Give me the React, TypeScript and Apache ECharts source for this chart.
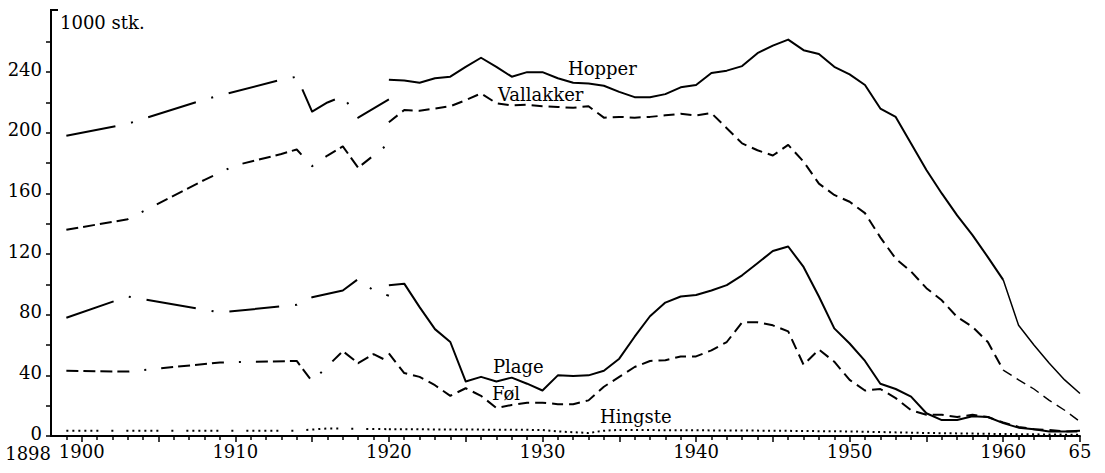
import React, { useEffect, useRef } from "react";
import * as echarts from "echarts";

// ---- Data (1000 stk.) ----
const mainYears: number[] = [];
for (let y = 1920; y <= 1965; y++) mainYears.push(y);

const hopperMain = [235, 234.5, 233, 236, 237, 243.5, 249.5, 243.5, 237, 240, 240, 236, 233, 232.5, 231, 227, 223.5, 223.5, 225.5, 230, 231.5, 239.5, 241, 244, 252.5, 257.5, 261.5, 254.5, 252, 243.5, 238.5, 231.5, 216, 210.5, 193, 175.5, 160, 145.5, 132.5, 118, 103, 73, 60, 48, 37, 28];
const vallakkerMain = [207, 215, 214.5, 216, 217.5, 221.5, 226, 219.5, 218, 218.5, 217.5, 217, 216.5, 217.5, 210, 210.5, 210, 210.5, 211.5, 212.5, 211.5, 213, 203, 193, 188.5, 185, 192, 181, 166.5, 159, 154.5, 147, 131, 117, 108.5, 97.5, 89.5, 78.5, 72, 62, 43.5, 37, 31, 23.5, 17, 9.5];
const plageMain = [99.5, 100.5, 85, 70.5, 62, 36, 39, 36, 38.5, 34.5, 30, 40, 39.5, 40, 43, 51, 65.5, 79, 88, 92, 93, 96, 99.5, 106, 114, 122, 125, 111.5, 92, 71, 61, 49.5, 34.5, 31, 26, 15, 10.5, 10.5, 13, 12.5, 8.5, 5.5, 4.5, 3, 3, 3.5];
const folMain = [54.5, 41.5, 39, 33.5, 26.5, 31.5, 26.5, 18.5, 20.5, 22, 22, 21, 21, 23.5, 32.5, 39, 45.5, 49.5, 50, 52.5, 52.5, 56.5, 62, 75, 75, 73, 69, 47, 57, 49, 37, 30, 31, 25, 17, 14, 14, 12.5, 14, 12.5, 9, 6, 4.5, 4, 3, 3];
const hingsteMain: [number, number][] = [[1920, 4.5], [1930, 4], [1931, 3], [1933, 2], [1934, 3.5], [1935, 4], [1945, 3.5], [1950, 3], [1955, 2], [1960, 1.3], [1965, 0.8]];

// early period (before 1920), sparse readings
const hopperEarly: [number, number][] = [[1899, 198], [1903, 206], [1908, 222], [1913, 235], [1914, 237], [1915, 214], [1916, 220], [1917, 224], [1918, 210], [1920, 222]];
const vallakkerEarly: [number, number][] = [[1899, 136], [1903, 143], [1908, 169], [1910, 178.5], [1913, 186], [1914, 189], [1915, 178], [1916, 185], [1917, 191], [1918, 177], [1920, 193]];
const plageEarly: [number, number][] = [[1899, 78], [1903, 92], [1909, 81.5], [1914, 86.5], [1915, 91.5], [1917, 96], [1918, 103.5], [1919, 96], [1920, 92.5]];
const folEarly: [number, number][] = [[1899, 43], [1903, 42.5], [1909, 48.5], [1914, 49.5], [1915, 36], [1917, 56], [1918, 48], [1919, 54], [1920, 49]];
const hingsteEarly: [number, number][] = [[1899, 3.5], [1914, 3.5], [1916, 5], [1920, 4.5]];

const xLabelValues = [1898, 1900, 1910, 1920, 1930, 1940, 1950, 1960, 1965];
const xMajorTicks = [1900, 1905, 1910, 1915, 1920, 1925, 1930, 1935, 1940, 1945, 1950, 1955, 1960, 1965];
const yLabelValues = [0, 40, 80, 120, 160, 200, 240];
const yTickValues = [0, 20, 40, 60, 80, 100, 120, 140, 160, 180, 200, 220, 240, 260];

const FONT = '"DejaVu Serif", "Liberation Serif", serif';

function pairs(vals: number[], from: number, to: number): [number, number][] {
  const out: [number, number][] = [];
  mainYears.forEach((y, i) => {
    if (y >= from && y <= to) out.push([y, vals[i]]);
  });
  return out;
}

export default function App() {
  const ref = useRef<HTMLDivElement>(null);
  useEffect(() => {
    if (!ref.current) return;
    const chart = echarts.init(ref.current, undefined, { renderer: "svg" });
    const minorTicks: number[] = [];
    for (let y = 1899; y < 1965; y++) if (y % 5 !== 0) minorTicks.push(y);

    const line = (data: any[], type: any, width = 2) => ({
      type: "line",
      data,
      symbol: "none",
      silent: true,
      xAxisIndex: 0,
      lineStyle: { color: "#000", width, type, cap: "butt", join: "round" },
    });
    const dashDot = [50, 16, 2, 16];
    const dashesDot = [12, 5, 12, 5, 12, 5, 12, 15, 2, 15];
    const dashed = [11, 6];

    chart.setOption({
      animation: false,
      backgroundColor: "#fff",
      grid: { left: 51, right: 25, top: 10, bottom: 37 },
      xAxis: [
        {
          type: "value",
          min: 1898,
          max: 1965,
          splitLine: { show: false },
          axisLine: { show: true, lineStyle: { color: "#000", width: 2 } },
          axisTick: { show: true, customValues: xMajorTicks, length: 6, lineStyle: { color: "#000", width: 1.5 } },
          axisLabel: {
            customValues: xLabelValues,
            formatter: (v: number) => (v === 1965 ? "65" : v === 1898 ? "{lo|1898}" : String(v)),
            color: "#000",
            fontFamily: FONT,
            fontSize: 18,
            lineHeight: 14,
            margin: 8,
            alignMinLabel: "right",
            alignMaxLabel: "center",
            rich: {
              lo: { fontFamily: FONT, fontSize: 18, color: "#000", lineHeight: 14, padding: [5, 0, 0, 0] },
            },
          },
        },
        {
          type: "value",
          min: 1898,
          max: 1965,
          position: "bottom",
          splitLine: { show: false },
          axisLine: { show: false },
          axisTick: { show: true, customValues: minorTicks, length: 4, lineStyle: { color: "#000", width: 1.5 } },
          axisLabel: { show: false },
        },
      ],
      yAxis: {
        type: "value",
        min: 0,
        max: 281,
        splitLine: { show: false },
        axisLine: { show: true, lineStyle: { color: "#000", width: 2 } },
        axisTick: { show: true, customValues: yTickValues, length: 5, lineStyle: { color: "#000", width: 1.5 } },
        axisLabel: {
          customValues: yLabelValues,
          color: "#000",
          fontFamily: FONT,
          fontSize: 18,
          lineHeight: 6,
          verticalAlign: "bottom",
          margin: 9,
        },
      },
      series: [
        line(hopperEarly, dashDot),
        line(pairs(hopperMain, 1920, 1960), "solid", 2),
        line(pairs(hopperMain, 1960, 1965), "solid", 1.5),
        line(vallakkerEarly, dashesDot),
        line(pairs(vallakkerMain, 1920, 1960), dashed, 2),
        line(pairs(vallakkerMain, 1960, 1965), [10, 6], 1.4),
        line(plageEarly, dashDot),
        line(pairs(plageMain, 1920, 1965), "solid", 2),
        line(folEarly, dashesDot),
        line(pairs(folMain, 1920, 1965), dashed, 2),
        line(hingsteEarly, [2, 4, 2, 4, 2, 4, 2, 4, 2, 4, 2, 13, 2, 13], 2),
        line(hingsteMain, [2, 3.5], 2),
      ],
      graphic: [
        { type: "line", shape: { x1: 50, y1: 10, x2: 58, y2: 10 }, style: { stroke: "#000", lineWidth: 2 } },
        { type: "text", x: 60, y: 22, style: { text: "1000 stk.", font: `18px ${FONT}`, fill: "#000", align: "left", verticalAlign: "middle" } },
        { type: "text", x: 568, y: 68, style: { text: "Hopper", font: `18px ${FONT}`, fill: "#000", align: "left", verticalAlign: "middle" } },
        { type: "text", x: 498, y: 94, style: { text: "Vallakker", font: `18px ${FONT}`, fill: "#000", align: "left", verticalAlign: "middle" } },
        { type: "text", x: 493, y: 366, style: { text: "Plage", font: `18px ${FONT}`, fill: "#000", align: "left", verticalAlign: "middle" } },
        { type: "text", x: 492, y: 393, style: { text: "Føl", font: `18px ${FONT}`, fill: "#000", align: "left", verticalAlign: "middle" } },
        { type: "text", x: 600, y: 416, style: { text: "Hingste", font: `18px ${FONT}`, fill: "#000", align: "left", verticalAlign: "middle" } },
      ],
    });
    return () => chart.dispose();
  }, []);
  return <div ref={ref} style={{ position: "absolute", left: 0, top: 0, width: 1105, height: 473 }} />;
}
